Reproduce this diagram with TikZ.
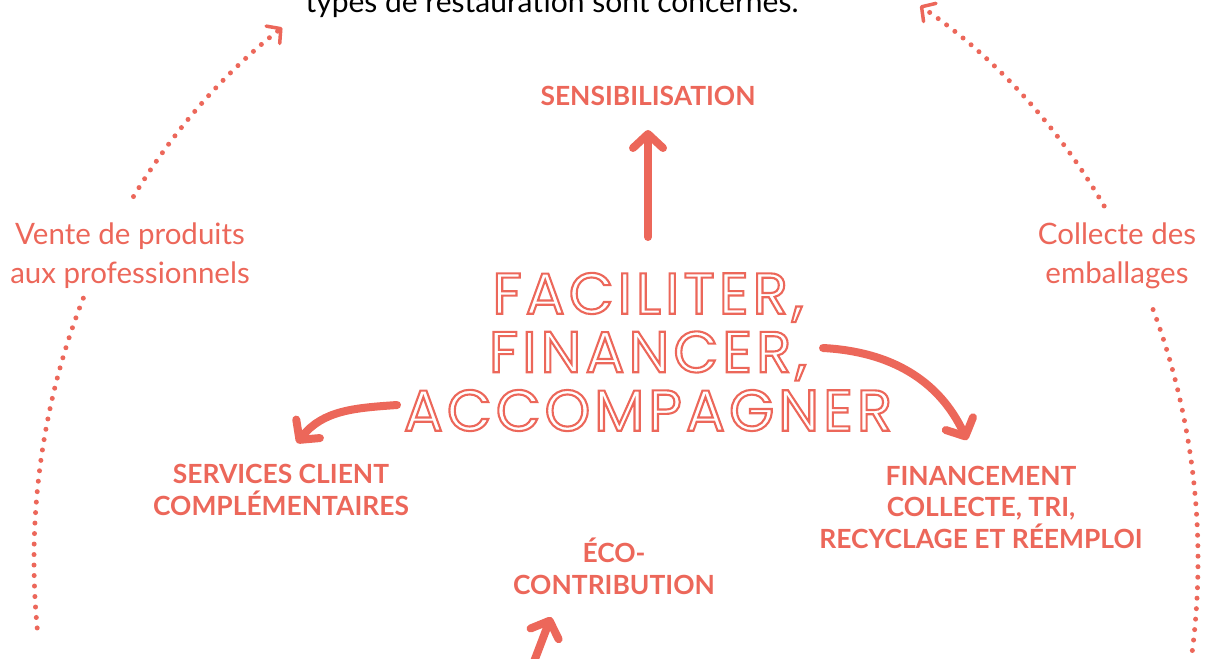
\documentclass[tikz,border=0pt]{standalone}
\usepackage{fontspec}
\setmainfont{Lato}
\newfontfamily\herofont{Poppins}[LetterSpace=7]
\usetikzlibrary{arrows.meta,calc}
\definecolor{coral}{RGB}{236,103,90}
% stroke-only letters for the big title
\newcommand\hollow[1]{\special{pdf:literal direct 1 Tr 2.1 w}#1\special{pdf:literal direct 0 Tr}}
\tikzset{
  caps/.style={text=coral, font=\bfseries\fontsize{26.4}{31.5}\selectfont, align=center, inner sep=0pt},
  side/.style={text=coral, font=\fontsize{29.5}{38.5}\selectfont, align=center, inner sep=0pt},
  hero/.style={text=coral, font=\herofont\fontsize{58}{58.5}\selectfont, align=center, inner sep=0pt},
  fatarrow/.style={draw=coral, line width=8pt, line cap=round, -{Straight Barb[round,length=14pt,width=30pt]}},
  dotarc/.style={draw=coral, line width=5pt, line cap=round, dash pattern=on 0pt off 10.5pt},
  dotarrow/.style={dotarc, -{Straight Barb[round,line width=3.5pt,length=10pt,width=22pt]}}
}
\begin{document}
\begin{tikzpicture}[x=1pt, y=1pt]
  \useasboundingbox (0,0) rectangle (1209,-658);
  \clip (0,0) rectangle (1209,-658);
  \node[anchor=base, font=\fontsize{30}{34}\selectfont] (topline) at (552,-13) {types de restauration sont concernés.};
  % labels (base = last line)
  \node[hero] (title) at (648,-352) {\hollow{FACILITER,\\FINANCER,\\ACCOMPAGNER}};
  \node[caps, anchor=base] (sens) at (648,-106) {SENSIBILISATION};
  \node[caps, anchor=base] (serv) at (281,-515) {SERVICES CLIENT\\COMPLÉMENTAIRES};
  \node[caps, anchor=base] (fin) at (981,-548) {FINANCEMENT\\COLLECTE, TRI,\\RECYCLAGE ET RÉEMPLOI};
  \node[caps, anchor=base] (eco) at (614,-594) {ÉCO-\\CONTRIBUTION};
  \node[side, anchor=base] (vente) at (130,-283) {Vente de produits\\aux professionnels};
  \node[side, anchor=base] (collecte) at (1117,-283) {Collecte des\\emballages};
  % solid arrows
  \coordinate (sens-tail) at (648,-237);
  \coordinate (sens-tip) at (648,-130);
  \coordinate (fin-tail) at (823,-348);
  \coordinate (fin-tip) at (967,-440);
  \coordinate (serv-tail) at (397,-405);
  \coordinate (serv-tip) at (297,-443);
  \coordinate (eco-tail) at (527,-680);
  \coordinate (eco-tip) at (551,-617);
  \draw[fatarrow] (sens-tail) -- (sens-tip);
  \draw[fatarrow] (fin-tail) to[out=-3, in=115] (fin-tip);
  \draw[fatarrow] (serv-tail) to[out=184, in=52] (serv-tip);
  \draw[fatarrow] (eco-tail) -- (eco-tip);
  % dotted ring
  \coordinate (ring) at (616,-560);
  \coordinate (vente-foot) at ($(ring)+(186:582pt and 650pt)$);
  \coordinate (vente-head) at ($(ring)+(146:582pt and 650pt)$);
  \coordinate (coll-head) at ($(ring)+(33:582pt and 650pt)$);
  \coordinate (coll-foot) at ($(ring)+(-8:582pt and 650pt)$);
  \draw[dotarc] (vente-foot) arc[start angle=186, end angle=156, x radius=582pt, y radius=650pt];
  \draw[dotarrow] (vente-head) arc[start angle=146, end angle=125, x radius=582pt, y radius=650pt];
  \draw[dotarrow] (coll-head) arc[start angle=33, end angle=58.5, x radius=582pt, y radius=650pt];
  \draw[dotarc] (coll-foot) arc[start angle=-8, end angle=23, x radius=582pt, y radius=650pt];
\end{tikzpicture}
\end{document}
